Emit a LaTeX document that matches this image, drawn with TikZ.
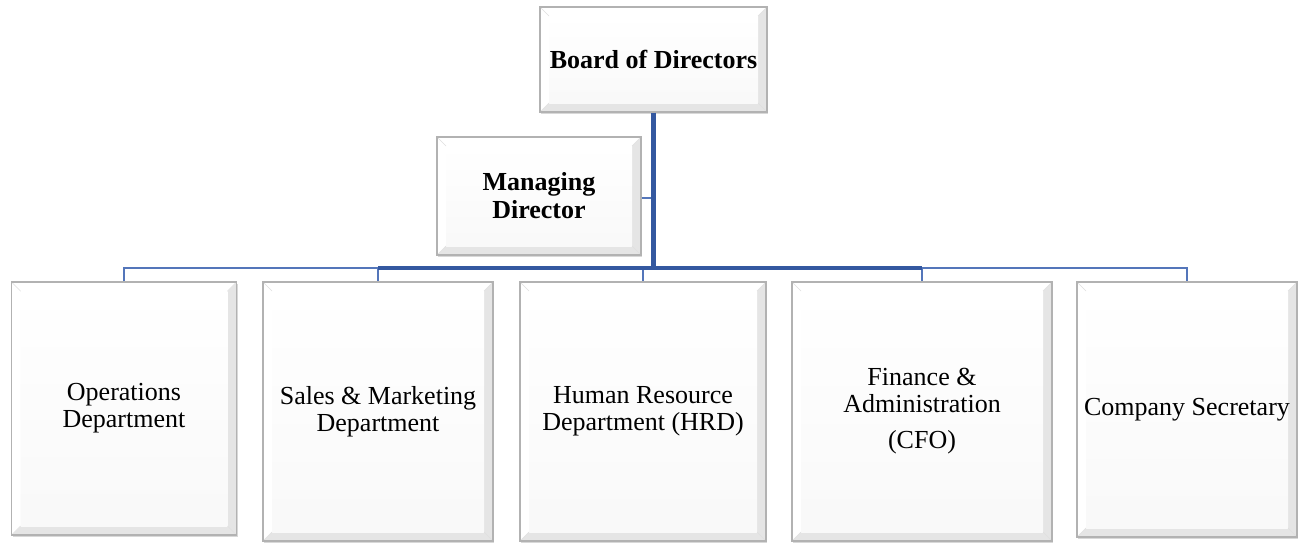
\documentclass[tikz,border=0pt]{standalone}
\usepackage{fontspec}
\setmainfont{Liberation Serif}
\usetikzlibrary{shadows}
\definecolor{linkblue}{RGB}{52,88,160}
\definecolor{linklight}{RGB}{84,118,186}
\tikzset{
  bevelbox/.style={
    draw=gray!60, line width=1.2pt, fill=gray!20, inner sep=0pt, align=center,
    font=\fontsize{26}{27}\selectfont,
    drop shadow={shadow xshift=1.2pt, shadow yshift=-1.5pt, fill=gray!50, opacity=0.6},
    path picture={
      \coordinate (pnw) at (path picture bounding box.north west);
      \coordinate (pse) at (path picture bounding box.south east);
      \coordinate (pne) at (path picture bounding box.north east);
      \coordinate (psw) at (path picture bounding box.south west);
      \shade[top color=white, bottom color=gray!5]
        ([shift={(9pt,-9pt)}]pnw) rectangle ([shift={(-9pt,9pt)}]pse);
      \fill[white] (pnw) -- (pne) -- ([shift={(-9pt,-9pt)}]pne) -- ([shift={(9pt,-9pt)}]pnw) -- cycle;
      \fill[white] (pnw) -- (psw) -- ([shift={(9pt,9pt)}]psw) -- ([shift={(9pt,-9pt)}]pnw) -- cycle;
      \draw[gray!25, line width=0.6pt] (pnw) -- ([shift={(9pt,-9pt)}]pnw)
        (pne) -- ([shift={(-9pt,-9pt)}]pne)
        (psw) -- ([shift={(9pt,9pt)}]psw)
        (pse) -- ([shift={(-9pt,9pt)}]pse);
    }
  },
  boldbox/.style={bevelbox, font=\fontsize{26}{28}\selectfont\bfseries},
  thickline/.style={draw=linkblue, line width=4pt},
  trunkline/.style={draw=linkblue, line width=5pt},
  thinline/.style={draw=linklight, line width=2.4pt}
}
\begin{document}
\begin{tikzpicture}[x=1pt,y=-1pt]
\useasboundingbox[fill=white] (0,0) rectangle (1306,546);

\node[boldbox, minimum width=227pt, minimum height=105pt] (board) at (653.5,59.5) {Board of Directors};
\node[boldbox, minimum width=204pt, minimum height=118pt] (md) at (539,196) {Managing\\Director};

\node[bevelbox, minimum width=225pt, minimum height=253pt] (ops) at (124,408.5) {Operations\\Department};
\node[bevelbox, minimum width=230pt, minimum height=259pt] (sales) at (378,411.5) {Sales \& Marketing\\Department};
\node[bevelbox, minimum width=246pt, minimum height=259pt] (hrd) at (643,411.5) {Human Resource\\Department (HRD)};
\node[bevelbox, minimum width=260pt, minimum height=259pt] (fin) at (922,411.5) {Finance \&\\Administration\\[9pt](CFO)};
\node[bevelbox, minimum width=220pt, minimum height=255pt] (cs) at (1187,409.5) {Company Secretary};

\coordinate (bus) at (653.5,268);
\coordinate (mdjoin) at (653.5,198);

% outer thin segments
\draw[thinline] (ops.north) -- (ops.north |- bus) -- (sales.north |- bus);
\draw[thinline] (fin.north |- bus) -- (cs.north |- bus) -- (cs.north);
\draw[thinline] (sales.north |- bus) -- (sales.north);
\draw[thinline] (hrd.north |- bus) -- (hrd.north);
\draw[thinline] (fin.north |- bus) -- (fin.north);
\draw[thinline] (md.east |- mdjoin) -- (mdjoin);
% central thick bus and trunk
\draw[thickline] (sales.north |- bus) -- (fin.north |- bus);
\draw[trunkline] (board.south) -- ([yshift=-2pt]bus);
\end{tikzpicture}
\end{document}
